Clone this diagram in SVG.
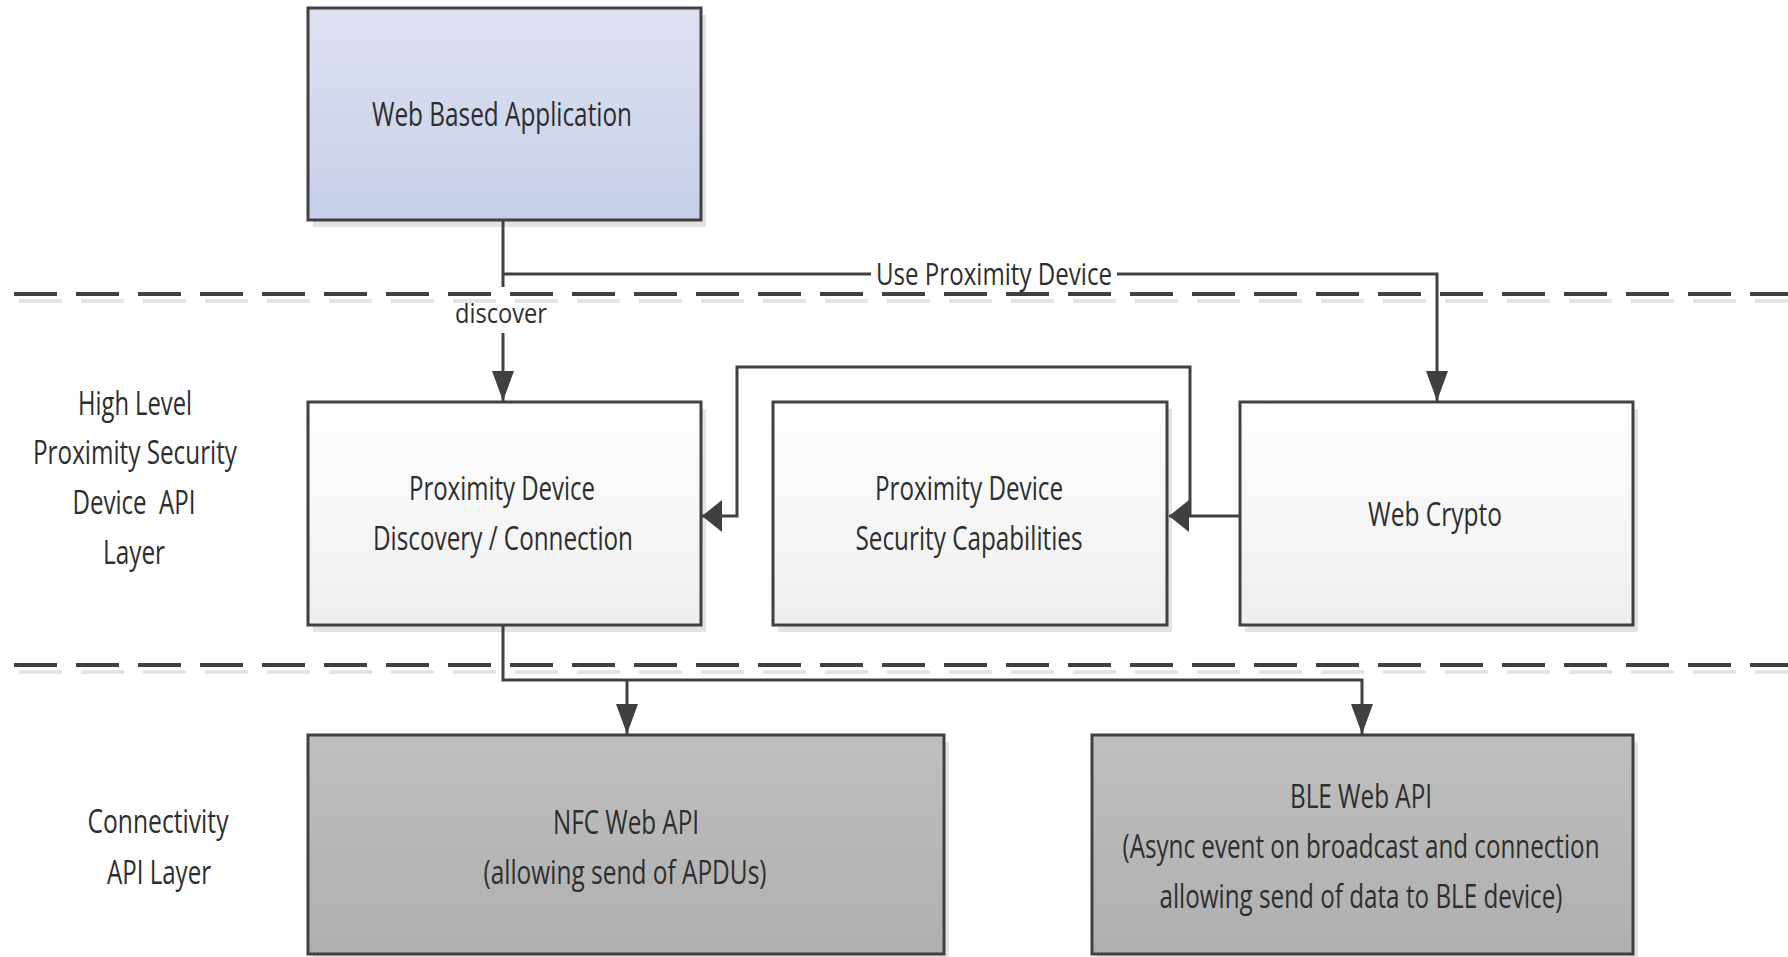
<svg xmlns="http://www.w3.org/2000/svg" width="1788" height="957" viewBox="0 0 1788 957">
  <defs>
    <linearGradient id="gradApp" x1="0" y1="0" x2="0" y2="1">
      <stop offset="0" stop-color="#dee1f0"/>
      <stop offset="1" stop-color="#c7cfe9"/>
    </linearGradient>
    <linearGradient id="gradMid" x1="0" y1="0" x2="0" y2="1">
      <stop offset="0" stop-color="#ffffff"/>
      <stop offset="1" stop-color="#eeeeee"/>
    </linearGradient>
    <linearGradient id="gradLow" x1="0" y1="0" x2="0" y2="1">
      <stop offset="0" stop-color="#bfbfbf"/>
      <stop offset="1" stop-color="#afafaf"/>
    </linearGradient>
    <!-- vertical arrows (down) -->
    <marker id="arrowV" markerUnits="userSpaceOnUse" markerWidth="30" markerHeight="22" refX="30" refY="11" orient="auto">
      <path d="M0,0 L30,11 L0,22 Z" fill="#404040"/>
    </marker>
    <!-- horizontal arrows (left) -->
    <marker id="arrowH" markerUnits="userSpaceOnUse" markerWidth="20" markerHeight="32" refX="20" refY="16" orient="auto">
      <path d="M0,0 L20,16 L0,32 Z" fill="#404040"/>
    </marker>
  </defs>
  <style>
    .box { stroke: #404040; stroke-width: 3; }
    .shadow { fill: #e3e3e3; }
    .txt { font-family: "Open Sans", "Liberation Sans", sans-serif; font-size: 33px; fill: #2e2e2e; text-anchor: middle; }
    .lbl { font-family: "Open Sans", "Liberation Sans", sans-serif; font-size: 31px; fill: #2e2e2e; text-anchor: middle; }
    .conn { fill: none; stroke: #404040; stroke-width: 3; }
    .dash { fill: none; stroke: #404040; stroke-width: 4; stroke-dasharray: 43 19; }
    .dashShadow { fill: none; stroke: #e4e4e4; stroke-width: 4; stroke-dasharray: 43 19; }
  </style>

  <rect width="1788" height="957" fill="#ffffff"/>

  <!-- layer captions -->
  <g id="layer-high">
    <text class="txt" x="135" y="415" textLength="114" lengthAdjust="spacingAndGlyphs">High Level</text>
    <text class="txt" x="135" y="464" textLength="204" lengthAdjust="spacingAndGlyphs">Proximity Security</text>
    <text class="txt" x="134" y="514" textLength="123" lengthAdjust="spacingAndGlyphs" xml:space="preserve">Device  API</text>
    <text class="txt" x="134" y="564" textLength="62" lengthAdjust="spacingAndGlyphs">Layer</text>
  </g>
  <g id="layer-connectivity">
    <text class="txt" x="158" y="833" textLength="141" lengthAdjust="spacingAndGlyphs">Connectivity</text>
    <text class="txt" x="159" y="884" textLength="104" lengthAdjust="spacingAndGlyphs">API Layer</text>
  </g>

  <!-- nodes -->
  <g id="web-app">
    <rect class="shadow" x="313" y="15" width="393" height="212"/>
    <rect class="box" x="308" y="8" width="393" height="212" fill="url(#gradApp)"/>
    <text class="txt" x="502" y="126" textLength="260" lengthAdjust="spacingAndGlyphs">Web Based Application</text>
  </g>

  <g id="discovery">
    <rect class="shadow" x="313" y="409" width="393" height="223"/>
    <rect class="box" x="308" y="402" width="393" height="223" fill="url(#gradMid)"/>
    <text class="txt" x="502" y="500" textLength="186" lengthAdjust="spacingAndGlyphs">Proximity Device</text>
    <text class="txt" x="503" y="550" textLength="260" lengthAdjust="spacingAndGlyphs">Discovery / Connection</text>
  </g>

  <g id="security-caps">
    <rect class="shadow" x="778" y="409" width="394" height="223"/>
    <rect class="box" x="773" y="402" width="394" height="223" fill="url(#gradMid)"/>
    <text class="txt" x="969" y="500" textLength="188" lengthAdjust="spacingAndGlyphs">Proximity Device</text>
    <text class="txt" x="969" y="550" textLength="227" lengthAdjust="spacingAndGlyphs">Security Capabilities</text>
  </g>

  <g id="web-crypto">
    <rect class="shadow" x="1245" y="409" width="393" height="223"/>
    <rect class="box" x="1240" y="402" width="393" height="223" fill="url(#gradMid)"/>
    <text class="txt" x="1435" y="526" textLength="134" lengthAdjust="spacingAndGlyphs">Web Crypto</text>
  </g>

  <g id="nfc-api">
    <rect class="shadow" x="313" y="742" width="636" height="222"/>
    <rect class="box" x="308" y="735" width="636" height="219" fill="url(#gradLow)"/>
    <text class="txt" x="626" y="834" textLength="146" lengthAdjust="spacingAndGlyphs">NFC Web API</text>
    <text class="txt" x="625" y="884" textLength="283" lengthAdjust="spacingAndGlyphs">(allowing send of APDUs)</text>
  </g>

  <g id="ble-api">
    <rect class="shadow" x="1097" y="742" width="541" height="222"/>
    <rect class="box" x="1092" y="735" width="541" height="219" fill="url(#gradLow)"/>
    <text class="txt" x="1361" y="808" textLength="142" lengthAdjust="spacingAndGlyphs">BLE Web API</text>
    <text class="txt" x="1361" y="858" textLength="477" lengthAdjust="spacingAndGlyphs">(Async event on broadcast and connection</text>
    <text class="txt" x="1361" y="908" textLength="403" lengthAdjust="spacingAndGlyphs">allowing send of data to BLE device)</text>
  </g>

  <!-- connectors -->
  <g id="connectors">
    <path class="conn" d="M503,220 V401" marker-end="url(#arrowV)"/>
    <path class="conn" d="M503,274 H1437 V401" marker-end="url(#arrowV)"/>
    <path class="conn" d="M1240,516 H1169" marker-end="url(#arrowH)"/>
    <path class="conn" d="M1190,516 V367 H737 V516 H702" marker-end="url(#arrowH)"/>
    <path class="conn" d="M503,625 V680 H1362 V734" marker-end="url(#arrowV)"/>
    <path class="conn" d="M627,680 V734" marker-end="url(#arrowV)"/>
    <!-- connector labels -->
    <rect x="452" y="287" width="100" height="46" fill="#ffffff"/>
    <text class="lbl" x="501" y="323" style="font-size:28px" textLength="92" lengthAdjust="spacingAndGlyphs">discover</text>
    <rect x="871" y="256" width="246" height="36" fill="#ffffff"/>
    <text class="lbl" x="994" y="285" textLength="236" lengthAdjust="spacingAndGlyphs">Use Proximity Device</text>
  </g>

  <!-- layer separators -->
  <g id="separators">
    <path class="dashShadow" d="M19,301 H1793"/>
    <path class="dash" d="M14,294 H1788"/>
    <path class="dashShadow" d="M19,672 H1793"/>
    <path class="dash" d="M14,665 H1788"/>
  </g>
</svg>
